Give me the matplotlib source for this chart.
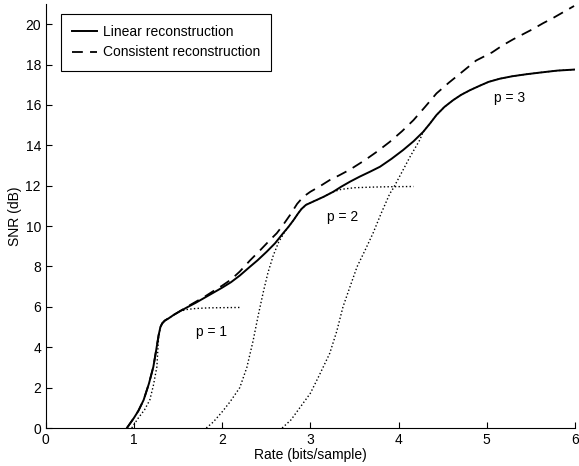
import matplotlib
matplotlib.use("Agg")
import matplotlib.pyplot as plt

plt.rcParams['font.family'] = ['Liberation Sans', 'DejaVu Sans']

# linear reconstruction (solid)
lin_x = [0.92, 1.0, 1.05, 1.11, 1.17, 1.22, 1.25, 1.28, 1.30, 1.32, 1.35, 1.4, 1.45, 1.52,
         1.6, 1.7, 1.8, 1.9, 2.0, 2.1, 2.2, 2.316, 2.4, 2.505, 2.6, 2.69, 2.75, 2.81, 2.86,
         2.9, 2.95, 3.0, 3.07, 3.15, 3.26, 3.35, 3.45, 3.56, 3.68, 3.79, 3.92, 4.05, 4.17,
         4.28, 4.36, 4.43, 4.52, 4.62, 4.71, 4.81, 4.92, 5.02, 5.15, 5.29, 5.45, 5.6, 5.8,
         5.99]
lin_y = [0, 0.5, 0.85, 1.39, 2.2, 3.03, 3.8, 4.6, 5.0, 5.18, 5.32, 5.45, 5.6, 5.78,
         5.97, 6.2, 6.45, 6.7, 6.95, 7.22, 7.55, 7.99, 8.3, 8.73, 9.15, 9.64, 9.95, 10.3,
         10.62, 10.85, 11.05, 11.15, 11.29, 11.45, 11.7, 11.95, 12.2, 12.45, 12.7, 12.94,
         13.33, 13.76, 14.2, 14.67, 15.1, 15.5, 15.9, 16.24, 16.5, 16.73, 16.95, 17.14,
         17.3, 17.42, 17.52, 17.6, 17.7, 17.75]

# consistent reconstruction (dashed)
con_x = [0.92, 1.0, 1.05, 1.11, 1.17, 1.22, 1.25, 1.28, 1.30, 1.32, 1.35, 1.4, 1.45, 1.52,
         1.6, 1.7, 1.8, 1.9, 2.0, 2.1, 2.2, 2.316, 2.43, 2.54, 2.62, 2.69, 2.77, 2.85, 2.92,
         3.0, 3.1, 3.22, 3.33, 3.45, 3.62, 3.76, 3.90, 4.04, 4.17, 4.3, 4.43, 4.57, 4.70,
         4.88, 5.06, 5.18, 5.3, 5.41, 5.52, 5.64, 5.75, 5.87, 5.99]
con_y = [0, 0.5, 0.85, 1.39, 2.2, 3.03, 3.8, 4.6, 5.0, 5.18, 5.32, 5.45, 5.6, 5.78,
         6.0, 6.25, 6.5, 6.78, 7.05, 7.35, 7.75, 8.3, 8.8, 9.3, 9.65, 10.05, 10.55, 11.1,
         11.45, 11.7, 11.95, 12.28, 12.52, 12.8, 13.27, 13.7, 14.17, 14.7, 15.25, 15.9,
         16.57, 17.1, 17.56, 18.2, 18.6, 18.95, 19.25, 19.5, 19.75, 20.05, 20.3, 20.6, 20.9]

# fixed-p curves (dotted)
p1_x = [0.975, 1.05, 1.12, 1.18, 1.22, 1.26, 1.27, 1.28, 1.30, 1.32, 1.35, 1.4, 1.45,
        1.52, 1.6, 1.7, 1.85, 2.0, 2.2]
p1_y = [0, 0.5, 0.9, 1.39, 2.1, 3.03, 3.8, 4.5, 5.0, 5.18, 5.32, 5.45, 5.6, 5.78, 5.87,
        5.92, 5.95, 5.96, 5.97]

p2_x = [1.82, 1.9, 2.0, 2.09, 2.2, 2.28, 2.35, 2.41, 2.47, 2.52, 2.58, 2.64, 2.71, 2.75,
        2.81, 2.86, 2.9, 2.95, 3.0, 3.07, 3.15, 3.26, 3.35, 3.5, 3.7, 3.9, 4.17]
p2_y = [0, 0.3, 0.8, 1.3, 2.0, 3.0, 4.3, 5.6, 6.8, 7.7, 8.55, 9.2, 9.72, 9.95, 10.3,
        10.62, 10.85, 11.05, 11.15, 11.29, 11.45, 11.7, 11.82, 11.9, 11.93, 11.95, 11.96]

p3_x = [2.68, 2.78, 2.88, 3.0, 3.1, 3.22, 3.3, 3.37, 3.45, 3.53, 3.62, 3.71, 3.8, 3.9,
        3.94, 4.05, 4.13, 4.24, 4.28, 4.36, 4.43, 4.52, 4.62, 4.71, 4.81, 4.92, 5.02,
        5.15, 5.29, 5.45, 5.6, 5.8, 5.99]
p3_y = [0, 0.4, 1.0, 1.72, 2.6, 3.7, 4.8, 6.0, 7.0, 7.99, 8.8, 9.64, 10.6, 11.6, 11.87,
        12.77, 13.43, 14.26, 14.67, 15.1, 15.5, 15.9, 16.24, 16.5, 16.73, 16.95, 17.14,
        17.3, 17.42, 17.52, 17.6, 17.7, 17.75]

labels = ['p = 1', 'p = 2', 'p = 3']
label_x = [1.88, 3.37, 5.26]
label_y = [4.77, 10.46, 16.32]

fig = plt.figure(figsize=(5.79, 4.66), dpi=100)
ax = fig.add_axes([0.079, 0.0815, 0.914, 0.91])

ax.plot(p1_x, p1_y, color='k', linestyle=':', linewidth=1.0)
ax.plot(p2_x, p2_y, color='k', linestyle=':', linewidth=1.0)
ax.plot(p3_x, p3_y, color='k', linestyle=':', linewidth=1.0)
ax.plot(con_x, con_y, color='k', linestyle=(0, (6, 4)), linewidth=1.3,
        label='Consistent reconstruction')
ax.plot(lin_x, lin_y, color='k', linewidth=1.4, label='Linear reconstruction')

for t, x, y in zip(labels, label_x, label_y):
    ax.text(x, y, t, fontsize=10, ha='center', va='center')

ax.set_xlim(0, 6)
ax.set_ylim(0, 21)
ax.set_xticks(range(0, 7))
ax.set_yticks(range(0, 21, 2))
ax.spines['top'].set_visible(False)
ax.spines['right'].set_visible(False)
ax.tick_params(direction='in', labelsize=10, length=4)
ax.set_xlabel('Rate (bits/sample)', fontsize=10, labelpad=1)
ax.set_ylabel('SNR (dB)', fontsize=10, labelpad=2)

h, l = ax.get_legend_handles_labels()
leg = ax.legend(h[::-1], l[::-1], loc='upper left', bbox_to_anchor=(0.029, 0.976),
                fontsize=10, fancybox=False, edgecolor='k', framealpha=1,
                handlelength=1.8, handletextpad=0.4, borderpad=0.8,
                labelspacing=0.45, borderaxespad=0)
leg.get_frame().set_linewidth(0.8)

plt.savefig('out.png', dpi=100)
